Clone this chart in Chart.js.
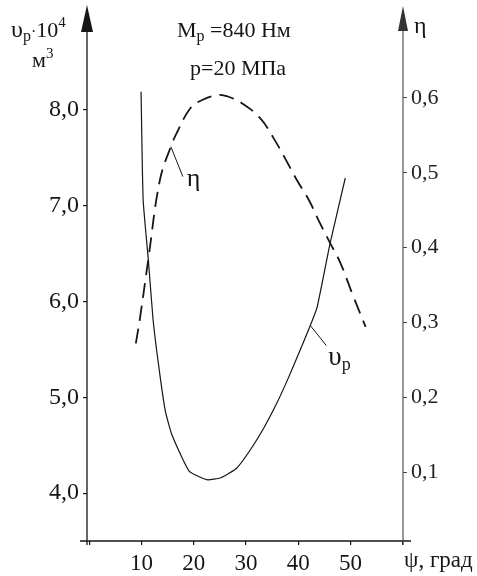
<!DOCTYPE html>
<html lang="ru">
<head>
<meta charset="UTF-8">
<title>υp, η от ψ</title>
<script src="https://cdn.jsdelivr.net/npm/chart.js"></script>
<style>
  html, body { margin: 0; padding: 0; background: #fff; }
</style>
</head>
<body>
<canvas id="chart" width="477" height="576"></canvas>
<script>
// Data
const psiV    = [9.9, 10.3, 11.3, 12.2, 13.2, 14.5, 15.8, 19.1, 22.5, 25.2, 28.2, 30.8, 33.4, 35.9, 38.0, 40.1, 42.3, 43.6, 46.1, 49.0];
const vValues = [8.19, 7.06, 6.43, 5.81, 5.36, 4.87, 4.61, 4.23, 4.14, 4.16, 4.26, 4.45, 4.68, 4.94, 5.19, 5.46, 5.75, 5.94, 6.61, 7.29];

const psiEta    = [8.9, 9.7, 11.3, 13.5, 15.6, 17.0, 19.3, 21.5, 24.7, 26.5, 29.2, 32.7, 35.3, 37.5, 39.75, 42.0, 44.2, 46.1, 48.1, 50.3, 52.9];
const etaValues = [0.272, 0.306, 0.385, 0.49, 0.535, 0.557, 0.586, 0.597, 0.604, 0.602, 0.593, 0.573, 0.546, 0.519, 0.49, 0.464, 0.432, 0.406, 0.379, 0.339, 0.294];

const xTicks   = [0, 10, 20, 30, 40, 50, 60];
const vTicks   = [4, 5, 6, 7, 8];
const etaTicks = [0.1, 0.2, 0.3, 0.4, 0.5, 0.6];

const FONT = 'Liberation Serif';
const INK = '#161616';

const toPoints = (xs, ys) => xs.map((x, i) => ({ x: x, y: ys[i] }));
const comma = (v, d) => Number(v).toFixed(d).replace('.', ',');

// draws a run of text pieces (for subscripts / superscripts)
function drawRuns(ctx, x, y, runs) {
  runs.forEach(r => {
    ctx.font = r.size + 'px "' + FONT + '"';
    ctx.fillText(r.t, x, y + (r.dy || 0));
    x += ctx.measureText(r.t).width;
  });
}

function arrowUp(ctx, x, tip, base, half) {
  ctx.beginPath();
  ctx.moveTo(x, tip);
  ctx.lineTo(x - half, base);
  ctx.lineTo(x + half, base);
  ctx.closePath();
  ctx.fill();
}

const decorations = {
  id: 'decorations',
  afterDraw(chart) {
    const { ctx, chartArea: a, scales } = chart;
    ctx.save();
    ctx.strokeStyle = INK;
    ctx.fillStyle = INK;
    ctx.lineWidth = 1.3;

    // axes lines
    ctx.beginPath();
    ctx.moveTo(a.left, 20); ctx.lineTo(a.left, a.bottom + 4);
    ctx.moveTo(a.left - 7, a.bottom); ctx.lineTo(a.right + 8, a.bottom);
    ctx.stroke();
    arrowUp(ctx, a.left, 5, 32, 6);

    ctx.strokeStyle = '#444';
    ctx.fillStyle = '#333';
    ctx.lineWidth = 1.1;
    ctx.beginPath();
    ctx.moveTo(a.right, 20); ctx.lineTo(a.right, a.bottom + 4);
    ctx.stroke();
    arrowUp(ctx, a.right, 6, 31, 5);

    // leader lines to curve labels
    ctx.strokeStyle = INK;
    ctx.fillStyle = INK;
    ctx.lineWidth = 1;
    const ex = scales.x.getPixelForValue(15.6), ey = scales.y1.getPixelForValue(0.535);
    const vx = scales.x.getPixelForValue(42.3), vy = scales.y.getPixelForValue(5.75);
    ctx.beginPath();
    ctx.moveTo(ex, ey); ctx.lineTo(ex + 12, ey + 30);
    ctx.moveTo(vx, vy); ctx.lineTo(vx + 16, vy + 20);
    ctx.stroke();

    ctx.textBaseline = 'alphabetic';
    ctx.textAlign = 'left';
    drawRuns(ctx, ex + 16, ey + 39, [{ t: 'η', size: 26 }]);
    drawRuns(ctx, vx + 18, vy + 40, [{ t: 'υ', size: 27 }, { t: 'p', size: 18, dy: 5 }]);

    // titles
    drawRuns(ctx, 177, 37, [{ t: 'M', size: 22 }, { t: 'p', size: 16, dy: 4 }, { t: ' =840 Нм', size: 22 }]);
    drawRuns(ctx, 190, 75, [{ t: 'p=20 МПа', size: 22 }]);

    // axis captions
    drawRuns(ctx, 11, 37, [{ t: 'υ', size: 24 }, { t: 'p', size: 16, dy: 4 }, { t: '·', size: 16 }, { t: '10', size: 22 }, { t: '4', size: 15, dy: -10 }]);
    drawRuns(ctx, 32, 67, [{ t: 'м', size: 22 }, { t: '3', size: 15, dy: -9 }]);
    drawRuns(ctx, 414, 33, [{ t: 'η', size: 24 }]);
    drawRuns(ctx, 404, 567, [{ t: 'ψ, град', size: 23 }]);
    ctx.restore();
  }
};

const tickGrid = { display: true, drawOnChartArea: false, drawTicks: true, tickLength: 4, color: INK, lineWidth: 1.2 };

new Chart(document.getElementById('chart'), {
  type: 'line',
  data: {
    datasets: [
      {
        label: 'υp',
        data: toPoints(psiV, vValues),
        yAxisID: 'y',
        borderColor: INK,
        borderWidth: 1.2,
        tension: 0.15,
        pointRadius: 0,
        fill: false
      },
      {
        label: 'η',
        data: toPoints(psiEta, etaValues),
        yAxisID: 'y1',
        borderColor: INK,
        borderWidth: 1.8,
        borderDash: [15, 8],
        tension: 0.4,
        pointRadius: 0,
        fill: false
      }
    ]
  },
  options: {
    responsive: false,
    animation: false,
    devicePixelRatio: 1,
    layout: { padding: { top: 10, left: 0, right: 0, bottom: 0 } },
    plugins: { legend: { display: false }, tooltip: { enabled: false } },
    scales: {
      x: {
        type: 'linear',
        position: 'bottom',
        min: -0.45,
        max: 60.05,
        afterFit: s => { s.height = 35; s.paddingLeft = 0; s.paddingRight = 0; },
        afterBuildTicks: s => { s.ticks = xTicks.map(v => ({ value: v })); },
        ticks: {
          autoSkip: false,
          maxRotation: 0,
          padding: 5,
          color: INK,
          font: { family: FONT, size: 23 },
          callback: v => (v === 0 || v === 60) ? '' : v
        },
        grid: tickGrid,
        border: { display: false }
      },
      y: {
        type: 'linear',
        position: 'left',
        min: 3.5,
        max: 9.044,
        afterFit: s => { s.width = 87; s.paddingTop = 0; s.paddingBottom = 0; },
        afterBuildTicks: s => { s.ticks = vTicks.map(v => ({ value: v })); },
        ticks: {
          padding: 4,
          color: INK,
          font: { family: FONT, size: 24 },
          callback: v => comma(v, 1)
        },
        grid: tickGrid,
        border: { display: false }
      },
      y1: {
        type: 'linear',
        position: 'right',
        min: 0.0078,
        max: 0.7176,
        afterFit: s => { s.width = 74; s.paddingTop = 0; s.paddingBottom = 0; },
        afterBuildTicks: s => { s.ticks = etaTicks.map(v => ({ value: v })); },
        ticks: {
          padding: 4,
          color: '#222',
          font: { family: FONT, size: 22 },
          callback: v => comma(v, 1)
        },
        grid: Object.assign({}, tickGrid, { color: '#444', lineWidth: 1 }),
        border: { display: false }
      }
    }
  },
  plugins: [decorations]
});
</script>
</body>
</html>
